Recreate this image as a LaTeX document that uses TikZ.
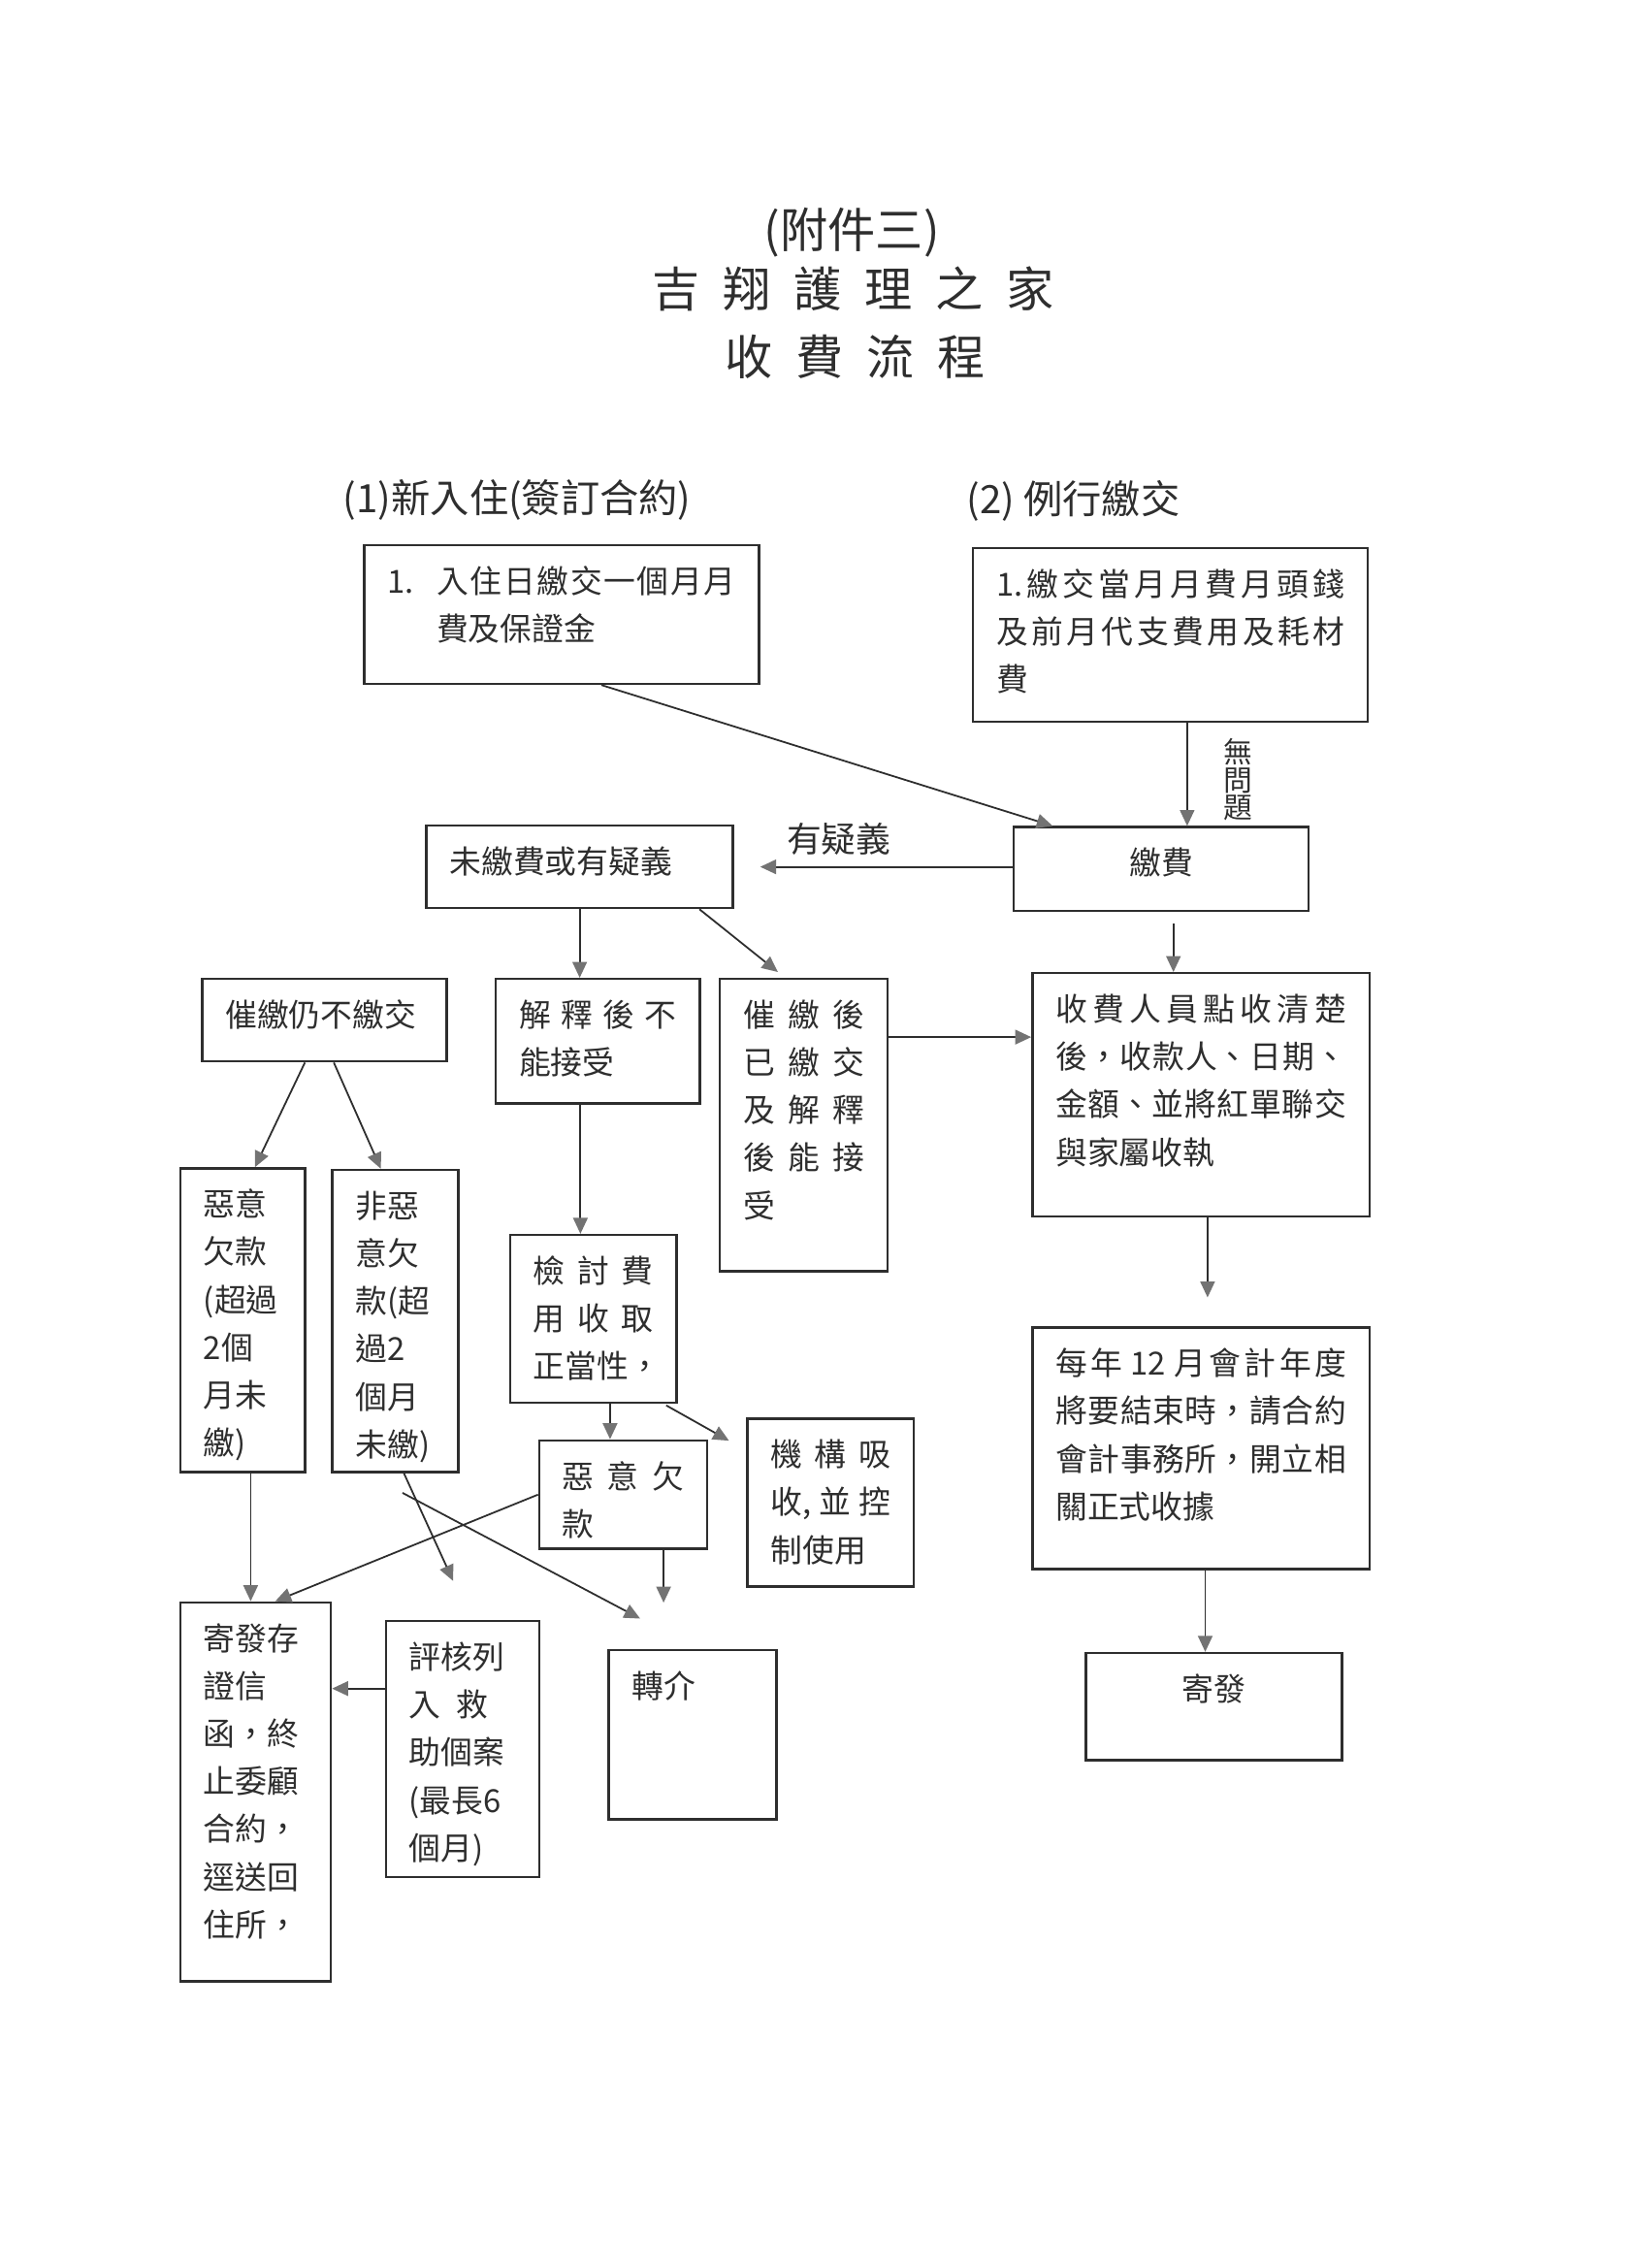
\documentclass[tikz,border=0pt]{standalone}
\usepackage{fontspec}
\setmainfont{Noto Sans CJK TC}
\XeTeXlinebreaklocale "zh"
\XeTeXlinebreakskip=0pt plus 3pt
\usetikzlibrary{arrows.meta,calc}
\colorlet{ink}{black!82}
\colorlet{tipgray}{black!55}
\newcommand\tgap{\hspace{8pt}}

\begin{document}
\begin{tikzpicture}[x=0.5pt, y=-0.5pt,
  box/.style 2 args={draw=ink, line width=0.8pt, anchor=north west, text=ink,
    minimum width=#1, text width=#1-16pt, inner xsep=8pt, inner ysep=7pt,
    text height=9.5pt, text depth=#2-23.5pt, align=justify,
    font=\fontsize{11pt}{16.5pt}\selectfont},
  flow/.style={draw=ink, line width=0.6pt, -{Triangle[width=5pt, length=5.5pt, color=tipgray]}},
  ttl/.style={text=ink, inner sep=0pt, font=\fontsize{16.5pt}{20pt}\selectfont},
  head/.style={text=ink, inner sep=0pt, anchor=west, font=\fontsize{13.5pt}{16pt}\selectfont},
  hand/.style={text=ink, inner sep=0pt}]
  \useasboundingbox (0,0) rectangle (1140,1568);

  \node[ttl] (annex) at (589,161) {(附件三)};
  \node[ttl] (home) at (590,200) {吉\tgap 翔\tgap 護\tgap 理\tgap 之\tgap 家};
  \node[ttl] (flowttl) at (591,247) {收\tgap 費\tgap 流\tgap 程};
  \node[head] (newin) at (237,346) {(1)新入住(簽訂合約)};
  \node[head] (routine) at (668,346) {(2) 例行繳交};

  \node[box={136.5pt}{48pt}] (newfee) at (251,376)
    {1.\hspace{8pt}入住日繳交一個月月\linebreak\hspace*{17pt}費及保證金};
  \node[box={136.5pt}{60pt}] (monthly) at (672,378)
    {1.繳交當月月費月頭錢\linebreak 及前月代支費用及耗材\linebreak 費};
  \node[box={102pt}{29pt}, align=center] (pay) at (700,571) {\mbox{繳費}};
  \node[box={106pt}{28.5pt}] (doubt) at (294,570) {未繳費或有疑義};
  \node[box={84.5pt}{28.5pt}] (urge) at (139,676) {催繳仍不繳交};
  \node[box={70.5pt}{43pt}] (reject) at (342,676) {解釋後不\linebreak 能接受};
  \node[box={58pt}{101pt}] (accept) at (497,676)
    {催繳後\linebreak 已繳交\linebreak 及解釋\linebreak 後能接\linebreak 受};
  \node[box={116.5pt}{84pt}] (receipt) at (713,672)
    {收費人員點收清楚\linebreak 後，收款人、日期、\linebreak 金額、並將紅單聯交\linebreak 與家屬收執};
  \node[box={43pt}{105pt}] (bad) at (124,807) {惡意\\欠款\\(超過\\2個\\月未\\繳)};
  \node[box={43.5pt}{104.5pt}] (nonbad) at (229,808) {非惡\\意欠\\款(超\\過2\\個月\\未繳)};
  \node[box={57.5pt}{58pt}] (review) at (352,853) {檢討費\linebreak 用收取\linebreak \mbox{正當性，}};
  \node[box={58pt}{37.5pt}] (bad2) at (372,995) {惡意欠\linebreak 款};
  \node[box={57.5pt}{58pt}] (absorb) at (516,980) {機構吸\linebreak 收,並控\linebreak 制使用};
  \node[box={116.5pt}{83.5pt}] (yearend) at (713,917)
    {每年 12 月會計年度\linebreak 將要結束時，請合約\linebreak 會計事務所，開立相\linebreak 關正式收據};
  \node[box={52pt}{131pt}] (notice) at (124,1107)
    {寄發存\\證信\\函，終\\止委顧\\合約，\\逕送回\\住所，};
  \node[box={53pt}{88.5pt}] (aid) at (266,1120) {評核列\\入\enspace 救\\助個案\\(最長6\\個月)};
  \node[box={58pt}{58.5pt}] (refer) at (420,1140) {轉介};
  \node[box={88.5pt}{37pt}, align=center] (send) at (750,1142) {\mbox{寄發}};

  \node[hand, font=\fontsize{12pt}{14pt}\selectfont] (qlbl) at (580,580) {有疑義};
  \node[hand, align=center, font=\fontsize{10pt}{9.5pt}\selectfont] (oklbl) at (856,539) {無\\問\\題};

  \draw[flow] ($(newfee.south)+(27.5,0)$) -- ($(pay.north)+(-75,0)$);
  \draw[flow] ($(monthly.south)+(11.5,0)$) coordinate (m1) -- (m1 |- pay.north);
  \draw[flow, shorten >=9pt] (pay.west |- doubt.east) -- (doubt.east);
  \draw[flow] (doubt.south) -- (doubt.south |- reject.north);
  \draw[flow] ($(doubt.south east)+(-24,0)$) -- ($(accept.north)+(-18,-4)$);
  \draw[flow] ($(pay.south)+(8.5,8)$) coordinate (p1) -- (p1 |- receipt.north);
  \draw[flow] ($(accept.north east)+(0,41)$) coordinate (a1) -- (a1 -| receipt.west);
  \draw[flow] ($(urge.south)+(-13.5,0)$) -- ($(bad.north)+(8.4,0)$);
  \draw[flow] ($(urge.south)+(6.5,0)$) -- ($(nonbad.north)+(-10,0)$);
  \draw[flow] ($(reject.south)+(-12,0)$) coordinate (r1) -- (r1 |- review.north);
  \draw[flow] ($(review.south)+(11.5,0)$) coordinate (v1) -- (v1 |- bad2.north);
  \draw[flow] ($(review.south east)+(-8,1)$) -- ($(absorb.north west)+(-12,16)$);
  \draw[flow] ($(bad.south)+(5.5,0)$) coordinate (b1) -- (b1 |- notice.north);
  \draw[flow] (bad2.west) -- ($(notice.north)+(13.5,0)$);
  \draw[flow] ($(nonbad.south)+(6,0)$) -- ($(aid.north)+(-6.5,-27)$);
  \draw[flow] ($(nonbad.south)+(5,13.5)$) -- ($(refer.north west)+(22.6,-21)$);
  \draw[flow] ($(bad2.south)+(28,0)$) coordinate (l1) -- ($(l1 |- refer.north)+(0,-32)$);
  \draw[flow] ($(aid.north west)+(0,47.4)$) coordinate (d1) -- (d1 -| notice.east);
  \draw[flow] ($(receipt.south)+(4.6,0)$) coordinate (h1) -- ($(h1 |- yearend.north)+(0,-20)$);
  \draw[flow] ($(yearend.south)+(3,0)$) coordinate (y1) -- (y1 |- send.north);
\end{tikzpicture}
\end{document}
